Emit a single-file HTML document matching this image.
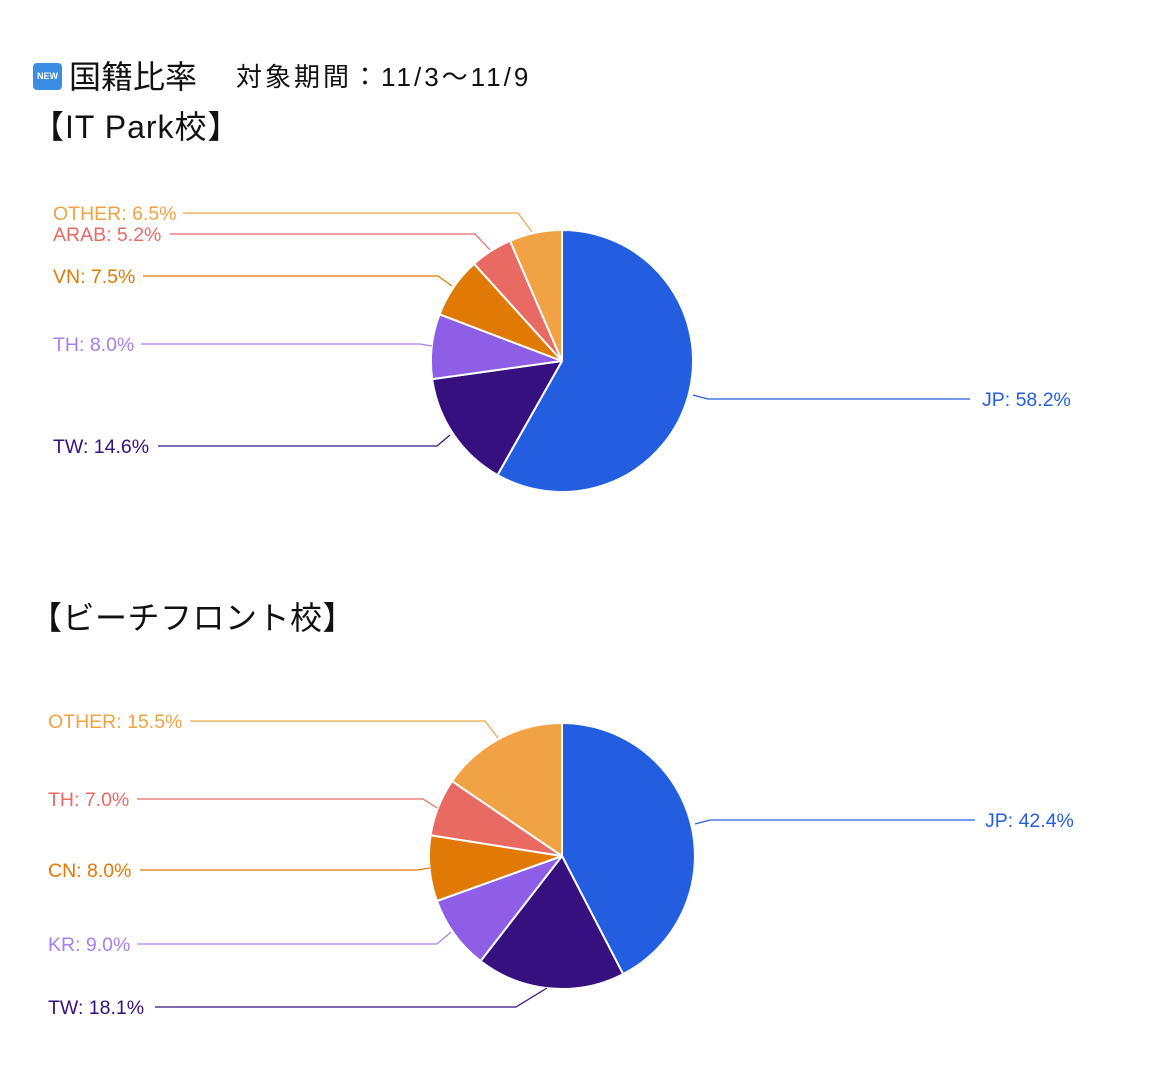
<!DOCTYPE html>
<html><head><meta charset="utf-8"><style>
html,body{margin:0;padding:0;background:#fff;}
body{width:1161px;height:1073px;position:relative;overflow:hidden;font-family:"Liberation Sans","Noto Sans CJK JP",sans-serif;}
.t{position:absolute;color:#111;white-space:nowrap;}
</style></head><body>
<div style="position:absolute;left:33px;top:63px;width:29px;height:27px;background:#3a8de0;border-radius:4px;color:#fff;font-size:9px;font-weight:bold;line-height:27px;text-align:center;">NEW</div>
<div class="t" style="left:69px;top:52px;font-size:32px;">国籍比率</div>
<div class="t" style="left:236px;top:57px;font-size:26px;letter-spacing:3px;">対象期間：11/3〜11/9</div>
<div class="t" style="left:32px;top:102px;font-size:32px;letter-spacing:1px;">【IT Park校】</div>
<div class="t" style="left:30px;top:593px;font-size:32px;letter-spacing:0.5px;">【ビーチフロント校】</div>
<svg width="1161" height="1073" style="position:absolute;left:0;top:0" font-family="Liberation Sans, sans-serif" font-size="19.5">
<g stroke="#fff" stroke-width="2" stroke-linejoin="round">
<path d="M562,361 L562,230 A131,131 0 1 1 497.5,475 Z" fill="#245ee0"/>
<path d="M562,361 L497.5,475 A131,131 0 0 1 432.2,379.1 Z" fill="#37107f"/>
<path d="M562,361 L432.2,379.1 A131,131 0 0 1 439.6,314.3 Z" fill="#8e5ee6"/>
<path d="M562,361 L439.6,314.3 A131,131 0 0 1 474.1,263.8 Z" fill="#e07a04"/>
<path d="M562,361 L474.1,263.8 A131,131 0 0 1 510,240.8 Z" fill="#e96a63"/>
<path d="M562,361 L510,240.8 A131,131 0 0 1 562,230 Z" fill="#f0a245"/>
<path d="M562,856 L562,723 A133,133 0 0 1 623.1,974.1 Z" fill="#245ee0"/>
<path d="M562,856 L623.1,974.1 A133,133 0 0 1 480.5,961.1 Z" fill="#37107f"/>
<path d="M562,856 L480.5,961.1 A133,133 0 0 1 436.9,901 Z" fill="#8e5ee6"/>
<path d="M562,856 L436.9,901 A133,133 0 0 1 430.6,835.2 Z" fill="#e07a04"/>
<path d="M562,856 L430.6,835.2 A133,133 0 0 1 452,781.2 Z" fill="#e96a63"/>
<path d="M562,856 L452,781.2 A133,133 0 0 1 562,723 Z" fill="#f0a245"/>
</g>
<g fill="none" stroke-width="1.2">
<polyline points="183,213 518,213 532,232" stroke="#f0a245"/>
<polyline points="170,234 475,234 490,250" stroke="#e96a63"/>
<polyline points="143,276 438,276 452,286" stroke="#e07a04"/>
<polyline points="141,344 420,344 432,346" stroke="#a67ff0"/>
<polyline points="158,446 437,446 450,435" stroke="#37107f"/>
<polyline points="970,399 708,399 693,395" stroke="#245ee0"/>
<polyline points="190,721 485,721 498,738" stroke="#f0a245"/>
<polyline points="137,799 423,799 437,808" stroke="#e96a63"/>
<polyline points="140,870 417,870 430,868" stroke="#e07a04"/>
<polyline points="137,944 437,944 451,932" stroke="#a67ff0"/>
<polyline points="155,1007 516,1007 547,988" stroke="#37107f"/>
<polyline points="975,820 710,820 695,824" stroke="#245ee0"/>
</g>
<text x="53" y="220" fill="#f0a245">OTHER: 6.5%</text>
<text x="53" y="241" fill="#e96a63">ARAB: 5.2%</text>
<text x="53" y="283" fill="#e07a04">VN: 7.5%</text>
<text x="53" y="351" fill="#a67ff0">TH: 8.0%</text>
<text x="53" y="453" fill="#37107f">TW: 14.6%</text>
<text x="982" y="406" fill="#245ee0">JP: 58.2%</text>
<text x="48" y="728" fill="#f0a245">OTHER: 15.5%</text>
<text x="48" y="806" fill="#e96a63">TH: 7.0%</text>
<text x="48" y="877" fill="#e07a04">CN: 8.0%</text>
<text x="48" y="951" fill="#a67ff0">KR: 9.0%</text>
<text x="48" y="1014" fill="#37107f">TW: 18.1%</text>
<text x="985" y="827" fill="#245ee0">JP: 42.4%</text>
</svg>
</body></html>
